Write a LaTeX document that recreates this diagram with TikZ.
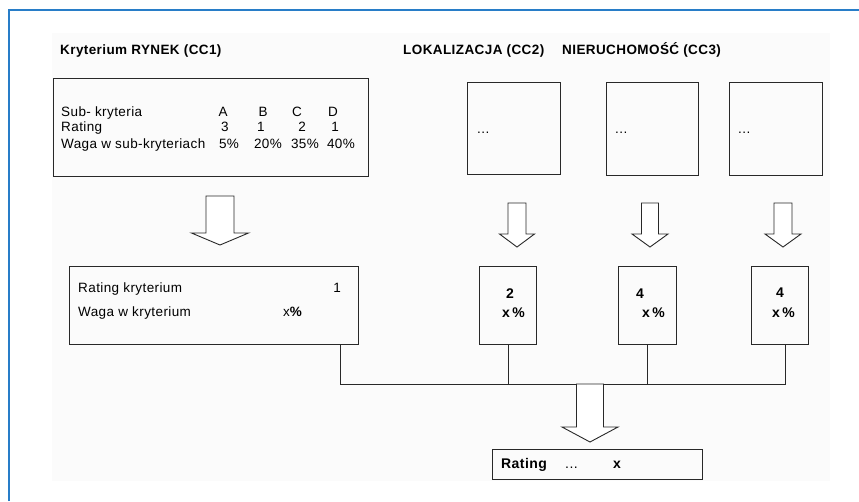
\documentclass[tikz,border=0pt]{standalone}
\usepackage{fontspec}
\setmainfont{Liberation Sans}[LetterSpace=3]
\definecolor{framec}{RGB}{40,125,200}
\definecolor{linec}{RGB}{40,40,40}
\definecolor{bgc}{RGB}{251,251,251}
\tikzset{
  box/.style={draw=linec, line width=0.9pt, rectangle, anchor=north west, inner sep=0pt},
  txt/.style={inner sep=0pt, anchor=base west, font=\fontsize{13.5}{15}\selectfont},
  ctxt/.style={inner sep=0pt, anchor=base, font=\fontsize{13.5}{15}\selectfont},
  ttl/.style={inner sep=0pt, anchor=base west, font=\fontsize{13.5}{15}\selectfont\bfseries},
  big/.style={inner sep=0pt, anchor=base west, font=\fontsize{14}{16}\selectfont\bfseries},
  wire/.style={draw=linec, line width=0.9pt},
  pics/barrow/.style n args={4}{code={
    \draw[linec, line width=0.9pt, fill=white] (-#1,0) -- (#1,0) -- (#1,#3) -- (#2,#3) -- (0,#4) -- (-#2,#3) -- (-#1,#3) -- cycle;}}
}
\begin{document}
\begin{tikzpicture}[x=1pt,y=-1pt]
\useasboundingbox (0,0) rectangle (859,501);
\fill[white] (0,0) rectangle (859,501);
\fill[bgc] (52,33) rectangle (830,481);
\draw[framec, line width=1.8pt] (9,501) -- (9,10) -- (859,10);

% titles
\node[ttl] (t1) at (60,54) {Kryterium RYNEK (CC1)};
\node[ttl] (t2) at (403,54) {LOKALIZACJA (CC2)};
\node[ttl] (t3) at (562,54) {NIERUCHOMOŚĆ (CC3)};

% top boxes
\node[box, minimum width=315pt, minimum height=98pt] (cc1) at (53,78) {};
\node[box, minimum width=93pt, minimum height=92pt] (ta) at (467,82) {};
\node[box, minimum width=92pt, minimum height=93pt] (tb) at (606,82) {};
\node[box, minimum width=93pt, minimum height=93pt] (tc) at (729,82) {};

% cc1 content
\node[txt] (l1) at (61,116) {Sub- kryteria};
\node[txt] (l2) at (61,131) {Rating};
\node[txt] (l3) at (61,148) {Waga w sub-kryteriach};
\node[ctxt] (cA) at (223,116) {A};
\node[ctxt] (cB) at (263,116) {B};
\node[ctxt] (cC) at (297,116) {C};
\node[ctxt] (cD) at (333,116) {D};
\node[ctxt] (rA) at (225,131) {3};
\node[ctxt] (rB) at (261,131) {1};
\node[ctxt] (rC) at (302,131) {2};
\node[ctxt] (rD) at (335,131) {1};
\node[ctxt] (wA) at (229,148) {5\%};
\node[ctxt] (wB) at (268,148) {20\%};
\node[ctxt] (wC) at (305,148) {35\%};
\node[ctxt] (wD) at (341,148) {40\%};

\node[txt] (da) at (477,133) {...};
\node[txt] (db) at (615,133) {...};
\node[txt] (dc) at (738,133) {...};

% arrows from top
\pic at (220,196) {barrow={14}{28.5}{37}{49}};
\pic at (517,203) {barrow={9}{17.5}{31}{44}};
\pic at (650,203) {barrow={8.5}{18}{31}{44}};
\pic at (783,203) {barrow={9}{18}{31}{44}};

% middle boxes
\node[box, minimum width=289pt, minimum height=78pt] (m1) at (69,266) {};
\node[box, minimum width=57pt, minimum height=78pt] (m2) at (479,266) {};
\node[box, minimum width=58pt, minimum height=78pt] (m3) at (618,266) {};
\node[box, minimum width=57pt, minimum height=78pt] (m4) at (751,266) {};

\node[txt] (k1) at (78,292) {Rating kryterium};
\node[ctxt] (k1v) at (337,292) {1};
\node[txt] (k2) at (78,316) {Waga w kryterium};
\node[txt] (k2v) at (283,316) {x{\bfseries\%}};

\node[big, anchor=base] (n2) at (510,298) {2};
\node[big] (p2) at (502,317) {x\,\%};
\node[big, anchor=base] (n3) at (640,298) {4};
\node[big] (p3) at (642,317) {x\,\%};
\node[big, anchor=base] (n4) at (780,297) {4};
\node[big] (p4) at (772,317) {x\,\%};

% connectors
\coordinate (j1) at (340,384);
\coordinate (j4) at (785,384);
\draw[wire] (m1.south west -| j1) -- (j1) -- (j4) -- (m4.south west -| j4);
\draw[wire] (m2.south) -- (m2.south |- j1);
\draw[wire] (m3.south) -- (m3.south |- j1);

\pic at (590,384) {barrow={13.5}{28}{43}{58}};

% result
\node[box, minimum width=210pt, minimum height=30pt] (res) at (492,449) {};
\node[big] (r1) at (501,468) {Rating};
\node[txt, font=\fontsize{14}{16}\selectfont] (r2) at (565,468) {...};
\node[big] (r3) at (613,468) {x};
\end{tikzpicture}
\end{document}
